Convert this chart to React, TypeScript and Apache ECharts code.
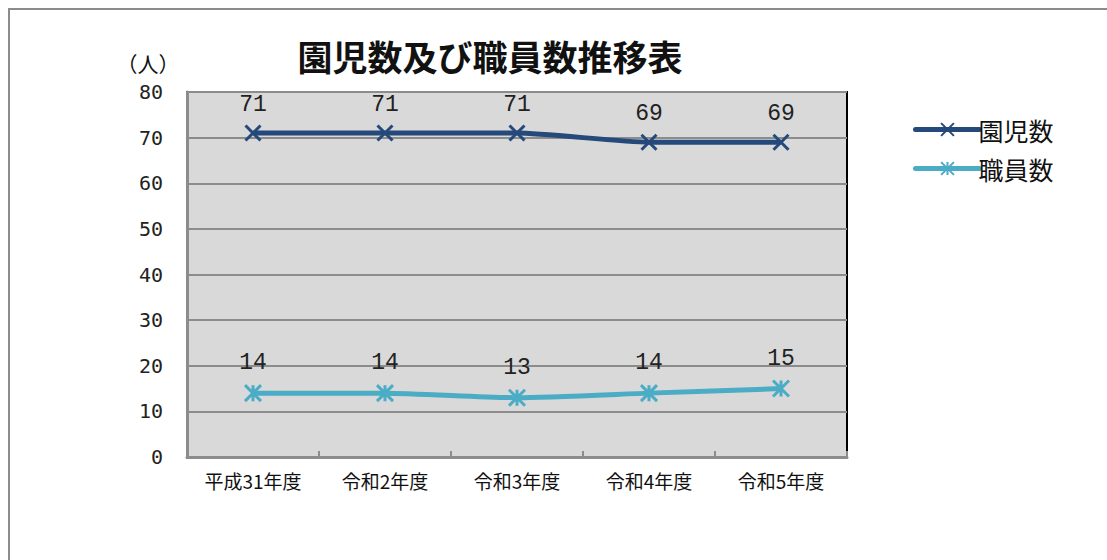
import React, { useEffect, useRef } from "react";
import * as echarts from "echarts";

const categories = ["平成31年度", "令和2年度", "令和3年度", "令和4年度", "令和5年度"];
const childrenCounts = [71, 71, 71, 69, 69];
const staffCounts = [14, 14, 13, 14, 15];
const seriesNames = ["園児数", "職員数"];
const titleText = "園児数及び職員数推移表";
const unitText = "（人）";

const DARK = "#24497a";
const LIGHT = "#4bacc6";
const JP = "'Noto Sans CJK JP', sans-serif";
const NUM = "'Liberation Mono', 'DejaVu Sans Mono', monospace";
const AXNUM = "'DejaVu Sans Mono', monospace";

const X_SYMBOL = "path://M0,0L10,10M10,0L0,10";
const STAR_SYMBOL = "path://M0,0L10,10M10,0L0,10M5,0L5,10";

export default function App() {
  const ref = useRef<HTMLDivElement>(null);
  useEffect(() => {
    if (!ref.current) return;
    const chart = echarts.init(ref.current, undefined, { renderer: "svg" });
    chart.setOption({
      animation: false,
      backgroundColor: "#ffffff",
      title: {
        text: titleText,
        left: 485,
        top: 33,
        textAlign: "center",
        textStyle: { fontFamily: JP, fontSize: 35, fontWeight: "bold", color: "#111" },
      },
      legend: {
        orient: "vertical",
        left: 908,
        top: 112,
        itemWidth: 64,
        itemHeight: 16,
        itemGap: 14,
        lineStyle: { width: 5, cap: "round" },
        textStyle: { fontFamily: JP, fontSize: 25, color: "#111", padding: [0, 0, 0, -6] },
        data: seriesNames,
      },
      grid: {
        left: 187,
        right: 260,
        top: 92,
        bottom: 103,
        show: true,
        backgroundColor: "#d9d9d9",
        borderColor: "#000",
        borderWidth: 2,
      },
      graphic: [
        {
          type: "rect",
          shape: { x: 9, y: 9, width: 1120, height: 600 },
          style: { fill: "none", stroke: "#8c8c8c", lineWidth: 2 },
          silent: true,
        },
        {
          type: "text",
          x: 148,
          y: 63,
          style: {
            text: unitText,
            fontFamily: JP,
            fontSize: 21,
            fill: "#111",
            align: "center",
            verticalAlign: "middle",
          },
        },
      ],
      xAxis: {
        type: "category",
        data: categories,
        boundaryGap: true,
        axisLine: { lineStyle: { color: "#8c8c8c", width: 3 } },
        axisTick: { show: true, inside: true, length: 6, lineStyle: { color: "#8c8c8c", width: 2 } },
        axisLabel: { fontFamily: JP, fontSize: 19, color: "#111", margin: 14, interval: 0 },
      },
      yAxis: {
        type: "value",
        min: 0,
        max: 80,
        interval: 10,
        axisLine: { show: true, lineStyle: { color: "#8c8c8c", width: 3 } },
        axisTick: { show: false },
        axisLabel: { fontFamily: AXNUM, fontSize: 20, color: "#222", margin: 24 },
        splitLine: { lineStyle: { color: "#8c8c8c", width: 2 } },
      },
      series: [
        {
          name: seriesNames[0],
          type: "line",
          data: childrenCounts,
          smooth: 0.2,
          symbol: X_SYMBOL,
          symbolSize: 15,
          lineStyle: { color: DARK, width: 5 },
          itemStyle: { color: DARK, borderColor: DARK, borderWidth: 3 },
          label: {
            show: true,
            position: "top",
            distance: 8,
            fontFamily: NUM,
            fontSize: 23,
            color: "#222",
          },
        },
        {
          name: seriesNames[1],
          type: "line",
          data: staffCounts,
          smooth: 0.2,
          symbol: STAR_SYMBOL,
          symbolSize: 16,
          lineStyle: { color: LIGHT, width: 5 },
          itemStyle: { color: LIGHT, borderColor: LIGHT, borderWidth: 3 },
          label: {
            show: true,
            position: "top",
            distance: 9,
            fontFamily: NUM,
            fontSize: 23,
            color: "#222",
          },
        },
      ],
    });
    return () => chart.dispose();
  }, []);
  return (
    <div
      ref={ref}
      style={{ position: "fixed", left: 0, top: 0, width: 1107, height: 560 }}
    />
  );
}
